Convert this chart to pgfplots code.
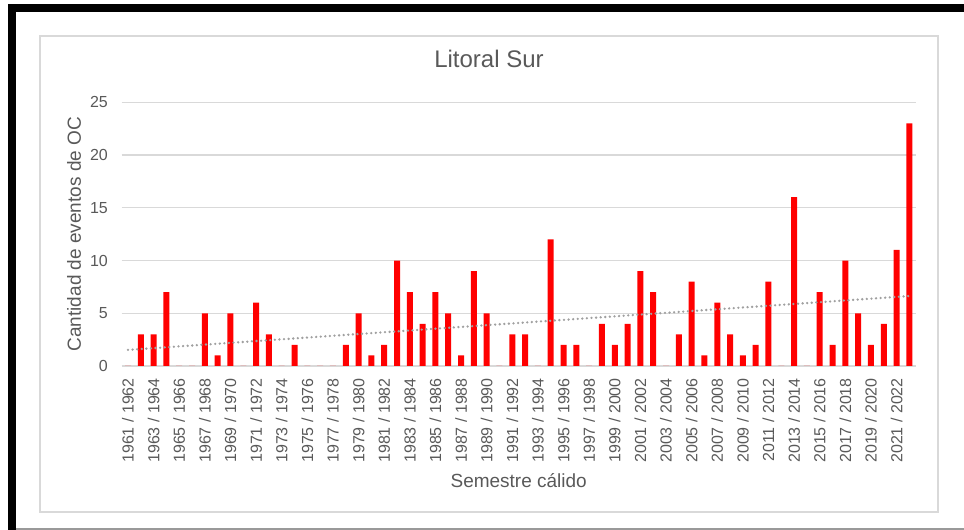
\documentclass[border=0pt]{standalone}
\usepackage{fontspec}
\setmainfont{Liberation Sans}
\usepackage{pgfplots}
\usepackage{pgfplotstable}
\pgfplotsset{compat=1.18}
\definecolor{txtgray}{HTML}{595959}
\definecolor{gridgray}{HTML}{D9D9D9}
\definecolor{trendgray}{HTML}{A0A0A0}

% eventos por semestre calido, indice 0 = 1961/1962
\pgfplotstableread{
x y
0 0
1 3
2 3
3 7
4 0
5 0
6 5
7 1
8 5
9 0
10 6
11 3
12 0
13 2
14 0
15 0
16 0
17 2
18 5
19 1
20 2
21 10
22 7
23 4
24 7
25 5
26 1
27 9
28 5
29 0
30 3
31 3
32 0
33 12
34 2
35 2
36 0
37 4
38 2
39 4
40 9
41 7
42 0
43 3
44 8
45 1
46 6
47 3
48 1
49 2
50 8
51 0
52 16
53 0
54 7
55 2
56 10
57 5
58 2
59 4
60 11
61 23
}\data

\begin{document}
\begin{tikzpicture}[x=1pt,y=1pt]
\path[use as bounding box] (0,0) rectangle (964,530);
\begin{axis}[
  at={(121.6pt,164pt)}, anchor=south west,
  scale only axis, width=794.2pt, height=263.7pt,
  xmin=-0.5, xmax=61.5, ymin=0, ymax=25,
  ytick={0,5,...,25},
  xtick={0,2,...,60},
  xticklabels={1961 / 1962,1963 / 1964,1965 / 1966,1967 / 1968,1969 / 1970,
    1971 / 1972,1973 / 1974,1975 / 1976,1977 / 1978,1979 / 1980,1981 / 1982,
    1983 / 1984,1985 / 1986,1987 / 1988,1989 / 1990,1991 / 1992,1993 / 1994,
    1995 / 1996,1997 / 1998,1999 / 2000,2001 / 2002,2003 / 2004,2005 / 2006,
    2007 / 2008,2009 / 2010,2011 / 2012,2013 / 2014,2015 / 2016,2017 / 2018,
    2019 / 2020,2021 / 2022},
  ymajorgrids, grid style={gridgray, line width=1.2pt},
  axis line style={draw=none}, major tick length=0pt, tick style={draw=none},
  /pgf/number format/assume math mode=true,
  tick label style={font=\fontsize{16}{19}\selectfont, text=txtgray, inner sep=0pt},
  xticklabel style={rotate=90, anchor=east},
  yticklabel style={anchor=east},
  xticklabel shift=12pt, yticklabel shift=13.6pt,
  title={Litoral Sur},
  title style={at={(axis description cs:0.4626,1.1414)}, anchor=center, inner sep=0pt,
    font=\fontsize{24}{29}\selectfont, text=txtgray},
  ylabel={Cantidad de eventos de OC},
  every axis y label/.style={at={(axis description cs:-0.0599,0.5)}, rotate=90, anchor=center,
    font=\fontsize{19}{23}\selectfont, text=txtgray},
  xlabel={Semestre cálido},
  every axis x label/.style={at={(axis description cs:0.5,-0.436)}, anchor=center,
    font=\fontsize{19}{23}\selectfont, text=txtgray},
]
\addplot[ybar, bar width=6pt, fill=red, draw=none] table[x=x, y=y] {\data};
\addplot[no marks, trendgray, line width=2.6pt, line cap=round, dash pattern=on 0pt off 4.6pt]
  table[x=x, y={create col/linear regression={y=y}}] {\data};
\end{axis}
\fill[black] (8,518) rectangle (964,526);
\fill[black] (8,0) rectangle (16,526);
\draw[gray!80, line width=1.5pt] (16,0.75) -- (964,0.75);
\draw[gridgray, line width=1.2pt] (40,18) rectangle (938,494);
\end{tikzpicture}
\end{document}
